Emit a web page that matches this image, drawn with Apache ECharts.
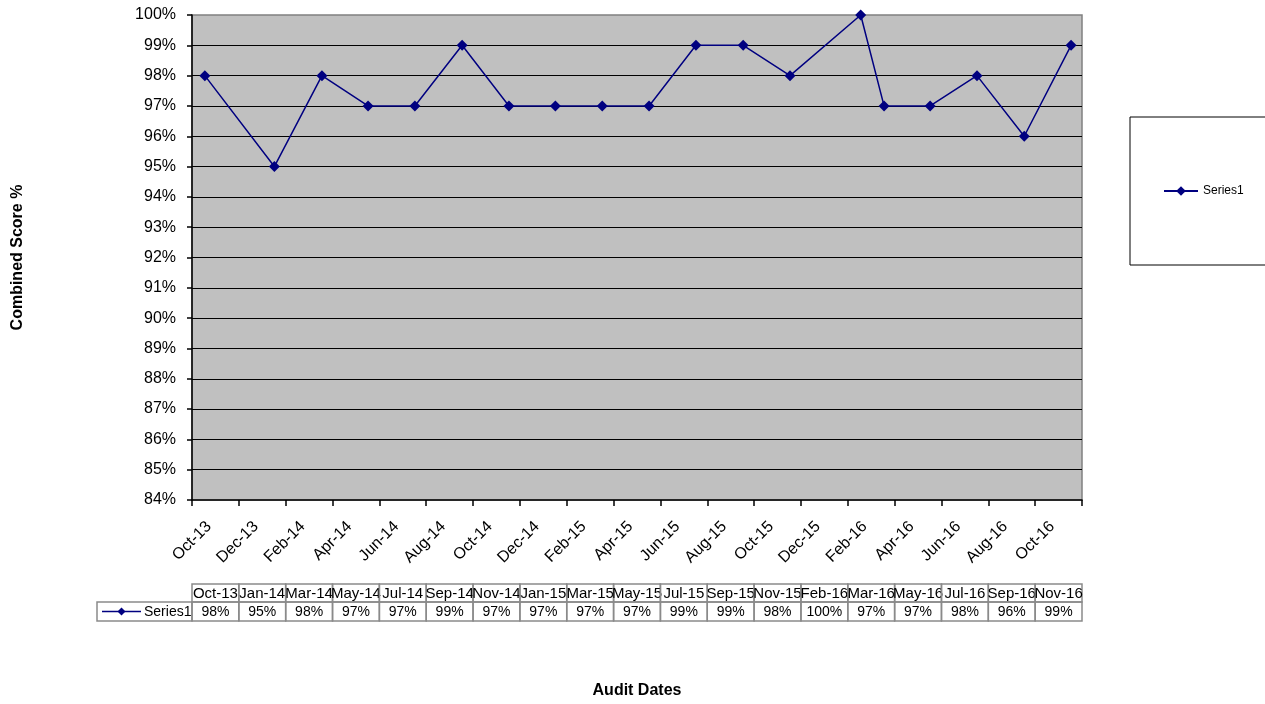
<!DOCTYPE html>
<html>
<head>
<meta charset="utf-8">
<script src="https://cdn.jsdelivr.net/npm/echarts@6/dist/echarts.min.js"></script>
<style>html,body{margin:0;padding:0;background:#fff}#c{width:1265px;height:704px}</style>
</head>
<body>
<div id="c"></div>
<script>
// ---- data ----
const auditDates = ['2013-10-18','2014-01-17','2014-03-18','2014-05-17','2014-07-17','2014-09-17','2014-11-17',
  '2015-01-17','2015-03-17','2015-05-17','2015-07-17','2015-09-17','2015-11-17','2016-02-17','2016-03-18',
  '2016-05-17','2016-07-17','2016-09-17','2016-11-17'];
const tableHeaders = ['Oct-13','Jan-14','Mar-14','May-14','Jul-14','Sep-14','Nov-14','Jan-15','Mar-15','May-15',
  'Jul-15','Sep-15','Nov-15','Feb-16','Mar-16','May-16','Jul-16','Sep-16','Nov-16'];
const scores = [98,95,98,97,97,99,97,97,97,97,99,99,98,100,97,97,98,96,99];
const xTickLabels = ['Oct-13','Dec-13','Feb-14','Apr-14','Jun-14','Aug-14','Oct-14','Dec-14','Feb-15','Apr-15',
  'Jun-15','Aug-15','Oct-15','Dec-15','Feb-16','Apr-16','Jun-16','Aug-16','Oct-16'];
const seriesName = 'Series1';

// ---- helpers ----
function monthIndex(s){
  const [y,m,d] = s.split('-').map(Number);
  const dim = new Date(y, m, 0).getDate();
  return (y-2013)*12 + (m-10) + (d-1)/dim;
}
const points = auditDates.map((d,i)=>[monthIndex(d), scores[i]]);

const W = 1265, H = 704;
const gLeft = 192, gRight = 1082, gTop = 15, gBottom = 500;
const font = 'Liberation Sans, Arial, sans-serif';

// data table (graphic)
const nCols = tableHeaders.length;
const cellW = (gRight - gLeft) / nCols;
const row1Top = 584, row2Top = 602, row2Bot = 621, legCellLeft = 97;
const border = '#8a8a8a';
const tableEls = [];
for (let i = 0; i < nCols; i++) {
  const x = gLeft + i*cellW;
  tableEls.push({type:'rect', shape:{x:x, y:row1Top, width:cellW, height:row2Top-row1Top},
    style:{fill:'none', stroke:border, lineWidth:1.5}});
  tableEls.push({type:'rect', shape:{x:x, y:row2Top, width:cellW, height:row2Bot-row2Top},
    style:{fill:'none', stroke:border, lineWidth:1.5}});
  tableEls.push({type:'text', x:x+cellW/2, y:(row1Top+row2Top)/2+1,
    style:{text:tableHeaders[i], fill:'#000', font:'15px '+font, align:'center', verticalAlign:'middle'}});
  tableEls.push({type:'text', x:x+cellW/2, y:(row2Top+row2Bot)/2+1,
    style:{text:scores[i]+'%', fill:'#000', font:'14px '+font, align:'center', verticalAlign:'middle'}});
}
tableEls.push({type:'rect', shape:{x:legCellLeft, y:row2Top, width:gLeft-legCellLeft, height:row2Bot-row2Top},
  style:{fill:'none', stroke:border, lineWidth:1.5}});
tableEls.push({type:'line', shape:{x1:legCellLeft+5, y1:(row2Top+row2Bot)/2, x2:legCellLeft+44, y2:(row2Top+row2Bot)/2},
  style:{stroke:'#000080', lineWidth:1.5}});
tableEls.push({type:'polygon', shape:{points:[[legCellLeft+24.5,(row2Top+row2Bot)/2-4],[legCellLeft+28.5,(row2Top+row2Bot)/2],
  [legCellLeft+24.5,(row2Top+row2Bot)/2+4],[legCellLeft+20.5,(row2Top+row2Bot)/2]]}, style:{fill:'#000080'}});
tableEls.push({type:'text', x:legCellLeft+47, y:(row2Top+row2Bot)/2+1,
  style:{text:seriesName, fill:'#000', font:'14px '+font, align:'left', verticalAlign:'middle'}});

const chart = echarts.init(document.getElementById('c'), null, {renderer:'canvas'});
chart.setOption({
  animation:false,
  backgroundColor:'#fff',
  textStyle:{fontFamily:font},
  grid:{left:gLeft, right:W-gRight, top:gTop, bottom:H-gBottom, show:true,
    backgroundColor:'#C0C0C0', borderColor:'#808080', borderWidth:1.5},
  legend:{data:[{name:seriesName}], left:1130, top:117, orient:'vertical',
    borderColor:'#000', borderWidth:1, padding:[68, 90, 68, 33],
    itemWidth:34, itemHeight:12, itemGap:0,
    textStyle:{fontSize:12, color:'#000', fontFamily:font}},
  xAxis:{type:'value', min:0, max:38, interval:2,
    name:'Audit Dates', nameLocation:'middle', nameGap:183,
    nameTextStyle:{fontSize:16, fontWeight:'bold', color:'#000', fontFamily:font},
    axisLine:{show:true, lineStyle:{color:'#000', width:1.5}},
    axisTick:{show:true, length:6, lineStyle:{color:'#000', width:1.5}},
    splitLine:{show:false},
    axisLabel:{rotate:45, fontSize:16, color:'#000', margin:7, fontFamily:font,
      verticalAlign:'top', padding:[16,0,0,0],
      formatter:(v)=>{const i=Math.round(v/2); return i<xTickLabels.length ? xTickLabels[i] : '';}}},
  yAxis:{type:'value', min:84, max:100, interval:1,
    name:'Combined Score %', nameLocation:'middle', nameGap:166,
    nameTextStyle:{fontSize:16, fontWeight:'bold', color:'#000', fontFamily:font},
    axisLine:{show:true, lineStyle:{color:'#000', width:1.5}},
    axisTick:{show:true, length:5, lineStyle:{color:'#000', width:1.5}},
    splitLine:{show:true, showMinLine:false, showMaxLine:false, lineStyle:{color:'#000', width:1.2}},
    axisLabel:{fontSize:16, color:'#000', margin:16, formatter:'{value}%', fontFamily:font}},
  series:[{name:seriesName, type:'line', data:points, color:'#000080',
    symbol:'diamond', symbolSize:11, showSymbol:true,
    lineStyle:{color:'#000080', width:1.5}, itemStyle:{color:'#000080'}}],
  graphic:[{type:'group', silent:true, children:tableEls}]
});
</script>
</body>
</html>
